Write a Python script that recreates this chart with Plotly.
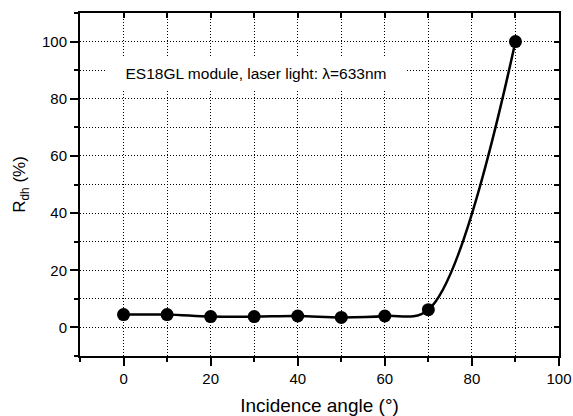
import plotly.graph_objects as go

angle = [0, 10, 20, 30, 40, 50, 60, 70, 90]
rdh = [4.5, 4.5, 3.8, 3.8, 4.0, 3.5, 4.0, 6.2, 100.0]

x_range = [-10, 100]
y_range = [-10, 110]

font_family = "Liberation Sans, Arial, Helvetica, sans-serif"

fig = go.Figure()
fig.add_trace(go.Scatter(
    x=angle, y=rdh, mode="lines+markers",
    line=dict(color="black", width=2.5, shape="spline", smoothing=1.0),
    marker=dict(color="black", size=13),
    showlegend=False, hoverinfo="skip",
))
# helper trace for the mirrored (inside) ticks on top/right
fig.add_trace(go.Scatter(
    x=angle, y=rdh, xaxis="x2", yaxis="y2", mode="markers",
    marker=dict(opacity=0), showlegend=False, hoverinfo="skip",
))

grid = dict(showgrid=True, gridcolor="black", gridwidth=1, griddash="1px,2px")

fig.update_layout(
    width=573, height=416,
    margin=dict(l=80, r=14, t=13, b=60),
    paper_bgcolor="white", plot_bgcolor="white",
    font=dict(family=font_family, size=15, color="black"),
    xaxis=dict(
        range=x_range, dtick=20, tick0=0, automargin=False,
        showline=True, linecolor="black", linewidth=2, mirror=True,
        ticks="outside", ticklen=8, tickwidth=2, tickcolor="black",
        zeroline=False,
        minor=dict(dtick=10, tick0=0, ticks="outside", ticklen=4, tickwidth=2,
                   tickcolor="black", **grid),
        title=dict(text="Incidence angle (°)", font=dict(size=19), standoff=19),
        **grid,
    ),
    yaxis=dict(
        range=y_range, dtick=20, tick0=0, automargin=False,
        showline=True, linecolor="black", linewidth=2, mirror=True,
        ticks="outside", ticklen=8, tickwidth=2, tickcolor="black",
        zeroline=False,
        minor=dict(dtick=10, tick0=0, ticks="outside", ticklen=4, tickwidth=2,
                   tickcolor="black", **grid),
        title=dict(text="R<sub>dh</sub> (%)", font=dict(size=17), standoff=12),
        **grid,
    ),
    xaxis2=dict(
        range=x_range, overlaying="x", side="top", anchor="y", automargin=False,
        dtick=10, tick0=0, ticks="inside", ticklen=5, tickwidth=2, tickcolor="black",
        showticklabels=False, showgrid=False, zeroline=False, showline=False,
    ),
    yaxis2=dict(
        range=y_range, overlaying="y", side="right", anchor="x", automargin=False,
        dtick=10, tick0=0, ticks="inside", ticklen=5, tickwidth=2, tickcolor="black",
        showticklabels=False, showgrid=False, zeroline=False, showline=False,
    ),
)

fig.add_annotation(
    x=30.5, y=89, xref="x", yref="y",
    text="ES18GL module, laser light: λ=633nm",
    showarrow=False, font=dict(size=15.5, color="black"),
    bgcolor="white", borderpad=7, width=286,
)

fig.write_html("out.html", config={"displayModeBar": False},
               post_script="document.body.style.margin='0';")
